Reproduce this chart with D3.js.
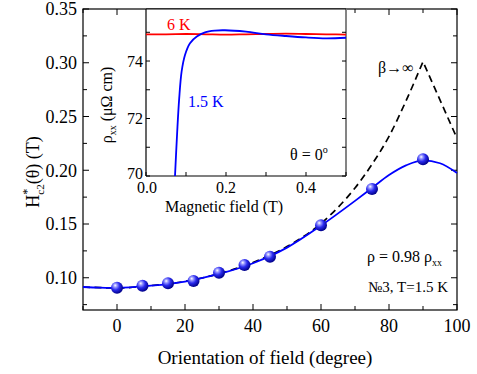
<!DOCTYPE html>
<html><head><meta charset="utf-8">
<script src="https://cdn.jsdelivr.net/npm/d3@7"></script>
<style>
body{margin:0;background:#fff;}
</style></head>
<body><svg id="c" width="477" height="374"></svg>
<script>
// ---- main chart data ----
const pointAngles = [0, 7.5, 15, 22.5, 30, 37.5, 45, 60, 75, 90];
const pointValues = [0.0907, 0.0926, 0.0948, 0.0970, 0.1047, 0.1119, 0.1196, 0.1488, 0.1826, 0.2102];
const fitAngles = [-10, -5, 0, 10, 20, 30, 40, 50, 60, 70, 75, 80, 85, 90, 95, 100];
const fitValues = [0.0914, 0.0908, 0.0905, 0.0926, 0.0965, 0.1035, 0.1135, 0.128, 0.1485, 0.1715, 0.1835, 0.1955, 0.2045, 0.2092, 0.2065, 0.1975];
const betaAngles = [-10, -5, 0, 10, 20, 30, 40, 50, 60, 65, 70, 75, 80, 85, 90, 100];
const betaValues = [0.0914, 0.0908, 0.0905, 0.0927, 0.0966, 0.1038, 0.1142, 0.129, 0.1505, 0.1655, 0.1835, 0.2055, 0.2315, 0.2645, 0.301, 0.2297];
const xTicks = [0, 20, 40, 60, 80, 100];
const yTicks = [0.10, 0.15, 0.20, 0.25, 0.30, 0.35];
// ---- inset data ----
const insetBlueField = [0.0725, 0.078, 0.083, 0.089, 0.0975, 0.11, 0.127, 0.1475, 0.1725, 0.1975, 0.25, 0.3, 0.35, 0.4, 0.45, 0.5];
const insetBlueRho = [70.0, 71.54, 72.7, 73.63, 74.21, 74.62, 74.85, 75.0, 75.06, 75.07, 75.02, 74.93, 74.87, 74.82, 74.79, 74.81];
const insetRedField = [0, 0.05, 0.1, 0.15, 0.2, 0.25, 0.3, 0.35, 0.4, 0.45, 0.5];
const insetRedRho = [74.93, 74.93, 74.94, 74.93, 74.92, 74.93, 74.94, 74.95, 74.94, 74.93, 74.92];
const insetXTicks = [0.0, 0.2, 0.4];
const insetYTicks = [70, 72, 74];

// pick an installed serif face
function pickFont() {
  const cands = ["Liberation Serif", "Times New Roman", "Tinos", "Nimbus Roman", "Nimbus Roman No9 L", "FreeSerif", "DejaVu Serif", "Noto Serif", "Noto Serif CJK SC", "Noto Serif CJK JP"];
  const c = document.createElement("canvas").getContext("2d");
  const s = "mmmmmmmmmmlliWQ0123.";
  c.font = "72px monospace"; const wm = c.measureText(s).width;
  c.font = "72px sans-serif"; const ws = c.measureText(s).width;
  for (const f of cands) {
    c.font = `72px "${f}", monospace`; const a = c.measureText(s).width;
    c.font = `72px "${f}", sans-serif`; const b = c.measureText(s).width;
    if (a !== wm && b !== ws) return `"${f}", serif`;
  }
  return "serif";
}
const FONT = pickFont();

const svg = d3.select("#c");
const T = (sel) => sel.append("text").attr("font-family", FONT).style("font-family", FONT).attr("fill", "#000");
const defs = svg.append("defs");
const g = defs.append("radialGradient").attr("id","ball").attr("cx","38%").attr("cy","35%").attr("r","65%").attr("fx","35%").attr("fy","30%");
g.append("stop").attr("offset","0%").attr("stop-color","#ffffff");
g.append("stop").attr("offset","22%").attr("stop-color","#9a9aff");
g.append("stop").attr("offset","55%").attr("stop-color","#2a2aee");
g.append("stop").attr("offset","100%").attr("stop-color","#00008a");

const x = d3.scaleLinear().domain([-10, 100]).range([83, 457]);
const y = d3.scaleLinear().domain([0.07, 0.35]).range([310, 9]);

const axG = svg.append("g");
axG.append("rect").attr("x",83).attr("y",9).attr("width",374).attr("height",301)
  .attr("fill","none").attr("stroke","#000").attr("stroke-width",1.2);

const xAll = d3.range(-10, 101, 10);
const yAll = d3.range(0.075, 0.351, 0.025);
xAll.forEach(v=>{
  const L = (v % 20 === 0) ? 6 : 4;
  axG.append("line").attr("x1",x(v)).attr("x2",x(v)).attr("y1",310).attr("y2",310-L).attr("stroke","#000");
  axG.append("line").attr("x1",x(v)).attr("x2",x(v)).attr("y1",9).attr("y2",9+L).attr("stroke","#000");
});
yAll.forEach((v)=>{
  const major = Math.abs(Math.round(v*1000) % 50) < 1;
  const L = major ? 6 : 4;
  axG.append("line").attr("x1",83).attr("x2",83+L).attr("y1",y(v)).attr("y2",y(v)).attr("stroke","#000");
  axG.append("line").attr("x1",457).attr("x2",457-L).attr("y1",y(v)).attr("y2",y(v)).attr("stroke","#000");
});
xTicks.forEach(v=>{
  T(axG).attr("x",x(v)).attr("y",332).attr("text-anchor","middle").attr("font-size",18).text(v);
});
yTicks.forEach(v=>{
  T(axG).attr("x",77).attr("y",y(v)).attr("dy","0.35em").attr("text-anchor","end").attr("font-size",18).text(v.toFixed(2));
});
T(svg).attr("x",265).attr("y",364).attr("text-anchor","middle").attr("font-size",19).text("Orientation of field (degree)");
const yl = T(svg).attr("transform","translate(39,172) rotate(-90)").attr("text-anchor","middle").attr("font-size",18);
yl.append("tspan").text("H");
yl.append("tspan").attr("font-size",12).attr("dy",-8).text("*");
yl.append("tspan").attr("font-size",11).attr("dx",-6).attr("dy",13).text("c2");
yl.append("tspan").attr("dy",-5).text("(θ) (T)");

const line = d3.line().x(d=>x(d[0])).y(d=>y(d[1]));
const betaPts = betaAngles.map((a,i)=>[a, betaValues[i]]);
const peak = betaAngles.indexOf(90);
svg.append("path").attr("d", line.curve(d3.curveMonotoneX)(betaPts.slice(0, peak+1)) + line.curve(d3.curveLinear)(betaPts.slice(peak)).replace("M","L"))
  .attr("fill","none").attr("stroke","#000").attr("stroke-width",1.7).attr("stroke-dasharray","7,4.5");
const fitPts = fitAngles.map((a,i)=>[a, fitValues[i]]);
svg.append("path").attr("d", line.curve(d3.curveMonotoneX)(fitPts)).attr("fill","none").attr("stroke","#0000ff").attr("stroke-width",1.8);
svg.append("g").selectAll("circle").data(pointAngles).join("circle")
  .attr("cx",(d)=>x(d)).attr("cy",(d,i)=>y(pointValues[i])).attr("r",6).attr("fill","url(#ball)");

T(svg).attr("x",378).attr("y",73).attr("font-size",16).text("β→∞");
const rho = T(svg).attr("x",367).attr("y",262).attr("font-size",16);
rho.append("tspan").text("ρ = 0.98 ρ");
rho.append("tspan").attr("font-size",10).attr("dy",4).text("xx");
T(svg).attr("x",368).attr("y",292).attr("font-size",15).text("№3, T=1.5 K");

// ---- inset ----
const ix = d3.scaleLinear().domain([0, 0.5]).range([146, 346]);
const iy = d3.scaleLinear().domain([70, 75.81]).range([176, 9]);
const ins = svg.append("g");
ins.append("rect").attr("x",146).attr("y",9).attr("width",200).attr("height",167).attr("fill","#fff");
ins.append("line").attr("x1",146).attr("x2",146).attr("y1",9).attr("y2",176).attr("stroke","#000").attr("stroke-width",1.2);
ins.append("line").attr("x1",146).attr("x2",346).attr("y1",176).attr("y2",176).attr("stroke","#000").attr("stroke-width",1.2);
ins.append("line").attr("x1",346).attr("x2",346).attr("y1",9).attr("y2",176).attr("stroke","#777").attr("stroke-width",1.8);
ins.append("line").attr("x1",146).attr("x2",346).attr("y1",9).attr("y2",9).attr("stroke","#000").attr("stroke-width",1.2);
d3.range(0, 0.51, 0.1).forEach(v=>{
  ins.append("line").attr("x1",ix(v)).attr("x2",ix(v)).attr("y1",176).attr("y2",172).attr("stroke","#000");
});
d3.range(70, 75.5, 1).forEach(v=>{
  ins.append("line").attr("x1",146).attr("x2",150).attr("y1",iy(v)).attr("y2",iy(v)).attr("stroke","#000");
  ins.append("line").attr("x1",346).attr("x2",342).attr("y1",iy(v)).attr("y2",iy(v)).attr("stroke","#000");
});
insetXTicks.forEach(v=>{
  T(ins).attr("x",ix(v) + (v === 0 ? 1 : 0)).attr("y",193).attr("text-anchor","middle").attr("font-size",16).text(v.toFixed(1));
});
insetYTicks.forEach(v=>{
  T(ins).attr("x",143).attr("y",iy(v) - (v === 70 ? 3 : 0)).attr("dy","0.35em").attr("text-anchor","end").attr("font-size",16).text(v);
});
T(svg).attr("x",224).attr("y",212).attr("text-anchor","middle").attr("font-size",16).text("Magnetic field (T)");
const iyl = T(svg).attr("transform","translate(112,105) rotate(-90)").attr("text-anchor","middle").attr("font-size",16);
iyl.append("tspan").text("ρ");
iyl.append("tspan").attr("font-size",10).attr("dy",4).text("xx");
iyl.append("tspan").attr("dy",-4).text(" (μΩ cm)");

const iline = d3.line().x(d=>ix(d[0])).y(d=>iy(d[1])).curve(d3.curveMonotoneX);
ins.append("path").attr("d", iline(insetRedField.map((f,i)=>[f, insetRedRho[i]])))
  .attr("fill","none").attr("stroke","#ff0000").attr("stroke-width",1.8);
ins.append("path").attr("d", d3.line().x(d=>ix(d[0])).y(d=>iy(d[1])).curve(d3.curveCatmullRom)(insetBlueField.map((f,i)=>[f, insetBlueRho[i]])))
  .attr("fill","none").attr("stroke","#0000ff").attr("stroke-width",1.8);
T(svg).attr("x",167).attr("y",30).attr("font-size",16).attr("fill","#ff0000").text("6 K");
T(svg).attr("x",188).attr("y",107).attr("font-size",16).attr("fill","#0000ff").text("1.5 K");
const th = T(svg).attr("x",290).attr("y",160).attr("font-size",16);
th.append("tspan").text("θ = 0");
th.append("tspan").attr("font-size",10).attr("dy",-7).text("o");
</script></body></html>
